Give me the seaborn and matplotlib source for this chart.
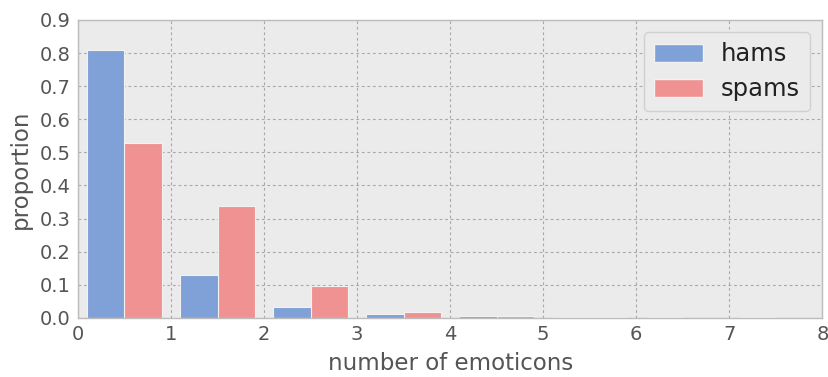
import numpy as np
import pandas as pd
import matplotlib
matplotlib.use("Agg")
import matplotlib.pyplot as plt
import seaborn as sns
from matplotlib.patches import Patch

# Number of emoticons per message (bin start) and the share of messages in each bin
emoticon_bins = [0, 1, 2, 3, 4, 5, 6, 7]
ham_proportion = [0.808, 0.129, 0.033, 0.013, 0.006, 0.002, 0.002, 0.002]
spam_proportion = [0.528, 0.337, 0.096, 0.017, 0.006, 0.002, 0.0, 0.0]
series_labels = ["hams", "spams"]
series_colors = ["#7fa1d7", "#f09292"]

df = pd.DataFrame({
    "emoticons": emoticon_bins * 2,
    "proportion": ham_proportion + spam_proportion,
    "kind": [series_labels[0]] * len(emoticon_bins) + [series_labels[1]] * len(emoticon_bins),
})

sns.set_style("whitegrid", {
    "axes.facecolor": "#ebebeb",
    "axes.edgecolor": "#bcbcbc",
    "grid.color": "#a8a8a8",
})
plt.rcParams["font.family"] = ["DejaVu Sans"]
text_color = "#555555"

fig = plt.figure(figsize=(8.29, 3.77), dpi=100)
ax = fig.add_axes([0.094, 0.157, 0.898, 0.79])

sns.histplot(
    data=df, x="emoticons", weights="proportion", hue="kind",
    hue_order=series_labels, palette=series_colors,
    binwidth=1, binrange=(0, 8), multiple="dodge", shrink=0.8,
    stat="count", alpha=1.0, edgecolor="#f2f2f2", linewidth=0.8,
    legend=False, ax=ax,
)

ax.set_xlim(0, 8)
ax.set_ylim(0, 0.9)
ax.set_xticks(range(0, 9))
ax.set_yticks(np.arange(0, 0.91, 0.1))
ax.set_yticklabels([f"{v:.1f}" for v in np.arange(0, 0.91, 0.1)])
ax.grid(True, color="#a8a8a8", linewidth=0.8, dashes=(2.5, 2.5))
ax.set_axisbelow(True)
for side in ax.spines.values():
    side.set_color("#bcbcbc")
    side.set_linewidth(1.0)

ax.tick_params(axis="both", labelsize=14, colors=text_color, length=0, pad=5)
ax.set_xlabel("number of emoticons", fontsize=16.5, color=text_color, labelpad=6)
ax.set_ylabel("proportion", fontsize=16.5, color=text_color, labelpad=6)

handles = [Patch(facecolor=c, edgecolor="#f2f2f2", label=l) for c, l in zip(series_colors, series_labels)]
leg = ax.legend(handles=handles, loc="upper right", fontsize=17.5, frameon=True,
                fancybox=True, framealpha=1.0, facecolor="#ebebeb", edgecolor="#d0d0d0",
                borderpad=0.42, handlelength=2.0, handleheight=0.75, labelspacing=0.45,
                handletextpad=0.75, borderaxespad=0.5)
for t in leg.get_texts():
    t.set_color("#222222")

fig.savefig("out.png", dpi=100)
